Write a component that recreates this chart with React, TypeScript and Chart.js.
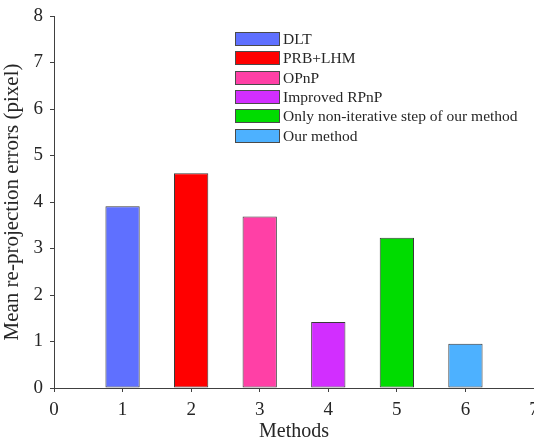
import React, { useEffect, useRef } from "react";
import { Chart, registerables } from "chart.js";

Chart.register(...registerables);

// ---- data ----
const methods = [
  "DLT",
  "PRB+LHM",
  "OPnP",
  "Improved RPnP",
  "Only non-iterative step of our method",
  "Our method",
];
const methodIndex = [1, 2, 3, 4, 5, 6];
const errors = [3.91, 4.62, 3.69, 1.42, 3.23, 0.95];
const barColors = ["#5f70ff", "#ff0000", "#ff40a6", "#d22eff", "#00dc00", "#4db1ff"];
const xTickRange = [0, 7];
const yTickRange = [0, 8];
const xTitle = "Methods";
const yTitle = "Mean re-projection errors (pixel)";

const FONT = "'Liberation Serif', 'Times New Roman', serif";
const AXIS = "#404040";
const TEXT = "#262626";

const insideLegend = {
  id: "insideLegend",
  afterDraw(chart: any) {
    const ctx = chart.ctx;
    const labels: string[] = chart.data.labels;
    const ds = chart.data.datasets[0];
    const x0 = 235;
    const y0 = 32;
    const w = 45;
    const h = 14;
    const pitch = 19.3;
    ctx.save();
    ctx.font = `15.5px ${FONT}`;
    ctx.textBaseline = "middle";
    ctx.textAlign = "left";
    labels.forEach((lab, i) => {
      const y = Math.round(y0 + i * pitch);
      ctx.fillStyle = ds.backgroundColor[i];
      ctx.fillRect(x0, y, w, h);
      ctx.strokeStyle = "#4a4a4a";
      ctx.lineWidth = 1;
      ctx.strokeRect(x0 + 0.5, y + 0.5, w - 1, h - 1);
      ctx.fillStyle = TEXT;
      ctx.fillText(lab, x0 + w + 3, y + h / 2 + 0.5);
    });
    ctx.restore();
  },
};

export default function App() {
  const ref = useRef<HTMLCanvasElement | null>(null);

  useEffect(() => {
    document.body.style.margin = "0";
    const canvas = ref.current;
    if (!canvas) return;
    const chart = new Chart(canvas, {
      type: "bar",
      data: {
        labels: methods,
        datasets: [
          {
            label: "errors",
            data: methodIndex.map((x, i) => ({ x, y: errors[i] })),
            backgroundColor: barColors,
            borderColor: "#3a3a3a",
            borderWidth: 1,
            borderSkipped: false,
            barPercentage: 0.5,
            categoryPercentage: 1,
          },
        ],
      },
      options: {
        animation: false,
        responsive: false,
        devicePixelRatio: 1,
        layout: { padding: { top: 16, right: 0, left: 0, bottom: 0 } },
        plugins: {
          legend: { display: false },
          tooltip: { enabled: false },
        },
        scales: {
          x: {
            type: "linear",
            min: xTickRange[0],
            max: xTickRange[1],
            offset: false,
            ticks: {
              stepSize: 1,
              font: { family: FONT, size: 19 },
              color: TEXT,
              padding: 7,
            },
            grid: {
              offset: false,
              drawOnChartArea: false,
              drawTicks: true,
              tickLength: 4,
              color: AXIS,
            },
            border: { display: true, color: AXIS, width: 1 },
            title: {
              display: true,
              text: xTitle,
              font: { family: FONT, size: 20 },
              color: TEXT,
              padding: 0,
            },
            afterFit(scale: any) {
              scale.height = 56;
              scale.paddingLeft = 0;
              scale.paddingRight = 0;
            },
          },
          y: {
            min: yTickRange[0],
            max: yTickRange[1],
            ticks: {
              stepSize: 1,
              font: { family: FONT, size: 19 },
              color: TEXT,
              padding: 7,
            },
            grid: {
              drawOnChartArea: false,
              drawTicks: true,
              tickLength: 4,
              color: AXIS,
            },
            border: { display: true, color: AXIS, width: 1 },
            title: {
              display: true,
              text: yTitle,
              font: { family: FONT, size: 21 },
              color: TEXT,
              padding: 0,
            },
            afterFit(scale: any) {
              scale.width = 54;
              scale.paddingTop = 0;
              scale.paddingBottom = 0;
            },
          },
        },
      } as any,
      plugins: [insideLegend],
    });
    return () => chart.destroy();
  }, []);

  return (
    <div style={{ width: 534, height: 444 }}>
      <canvas ref={ref} width={534} height={444} style={{ display: "block" }} />
    </div>
  );
}
